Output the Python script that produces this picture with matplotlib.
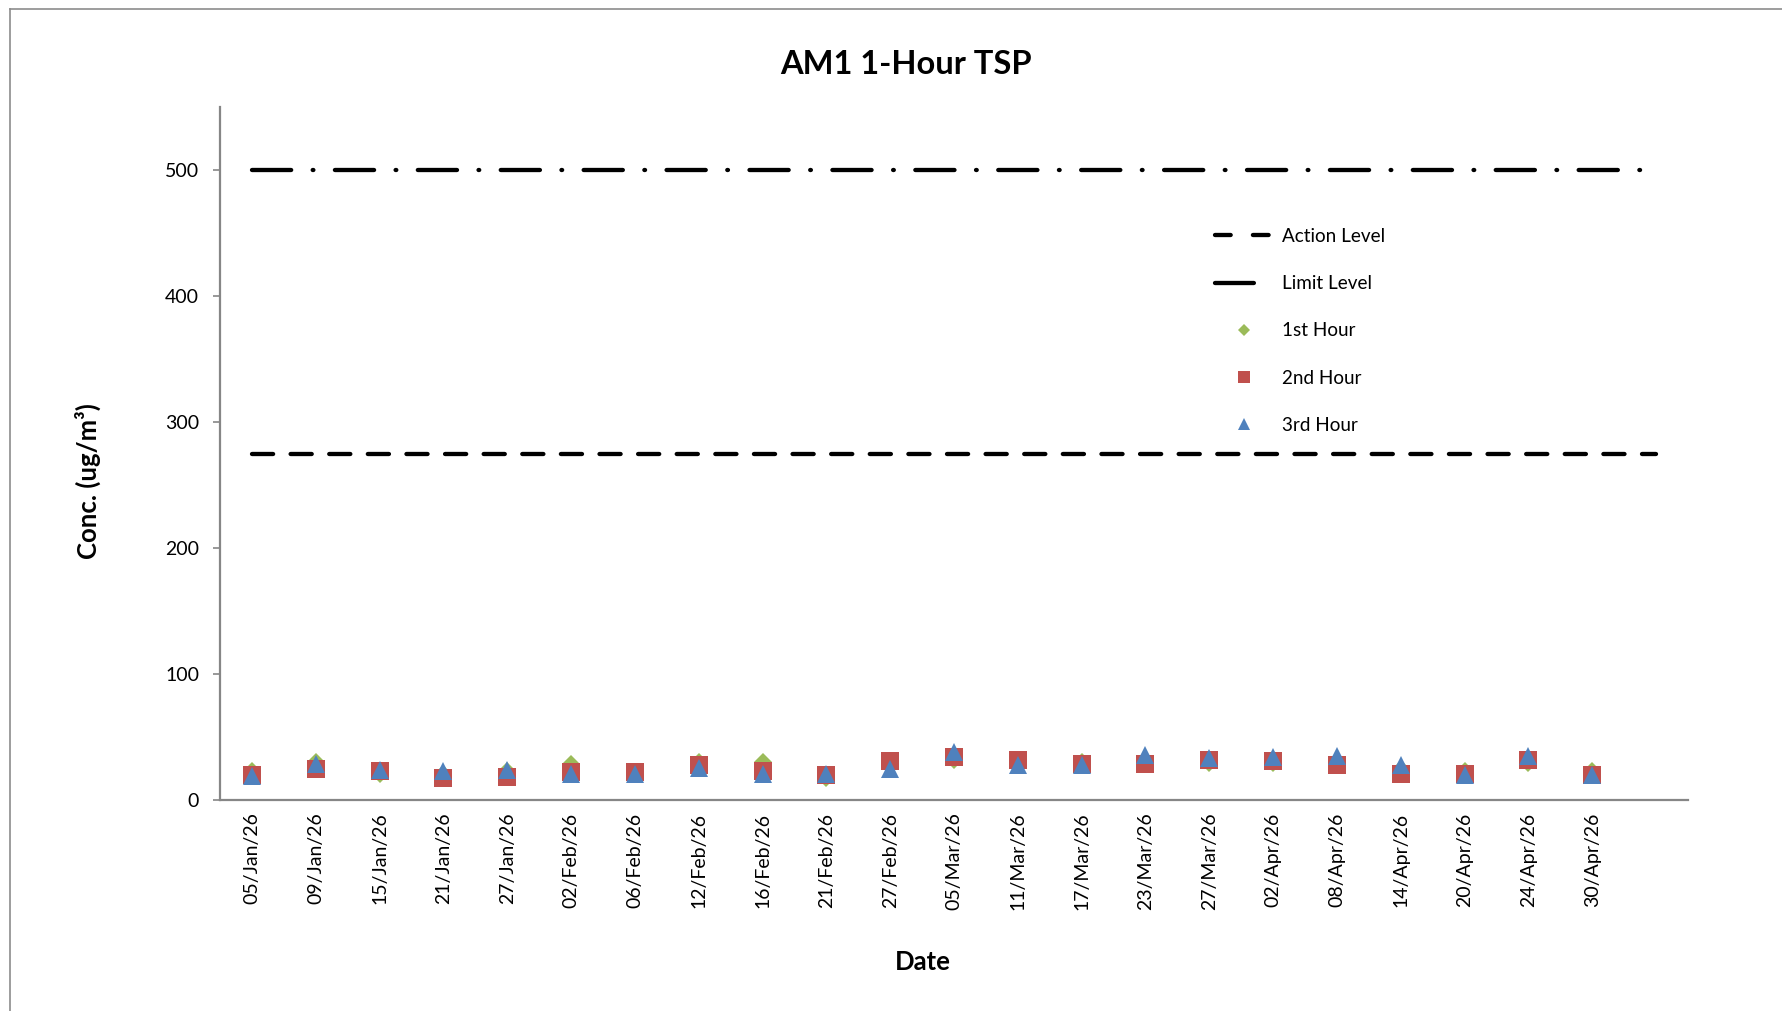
import matplotlib
matplotlib.use("Agg")
import matplotlib.pyplot as plt
from matplotlib.lines import Line2D

plt.rcParams['font.family'] = ['Lato', 'DejaVu Sans']
plt.rcParams['lines.scale_dashes'] = False

# ---------------- data ----------------
dates = ["05/Jan/26", "09/Jan/26", "15/Jan/26", "21/Jan/26", "27/Jan/26",
         "02/Feb/26", "06/Feb/26", "12/Feb/26", "16/Feb/26", "21/Feb/26",
         "27/Feb/26", "05/Mar/26", "11/Mar/26", "17/Mar/26", "23/Mar/26",
         "27/Mar/26", "02/Apr/26", "08/Apr/26", "14/Apr/26", "20/Apr/26",
         "24/Apr/26", "30/Apr/26"]
hour1 = [23, 30, 21, 21, 23, 28.6, 20.4, 30, 30, 17.7, 29, 31.7, 30, 30, 30,
         29, 29, 30, 25, 23.3, 29, 22.8]
hour2 = [19.8, 25, 22.9, 17.7, 17.9, 22.5, 22.5, 27.8, 22.9, 19.7, 31.1, 34.5,
         31.9, 28.2, 28.4, 32, 31.3, 27.6, 20.5, 20.5, 31.7, 19.7]
hour3 = [18.9, 28.4, 24, 23.3, 23.8, 20.9, 20.9, 25.1, 21, 20.9, 24.7, 38.1,
         27.8, 27.4, 35.7, 33.7, 33.9, 34.7, 27.4, 19.6, 35.3, 19.6]
n_slots = 23  # 22 dates + one empty category slot
action_level = 275
limit_level = 500
yticks = [0, 100, 200, 300, 400, 500]

W, H = 1783, 1011
fig = plt.figure(figsize=(W / 100, H / 100), dpi=100)

# chart-area border (Excel style)
fig.add_artist(Line2D([10 / W, 10 / W], [0, 1 - 9 / H], transform=fig.transFigure,
                      color='#8c8c8c', lw=1.2))
fig.add_artist(Line2D([10 / W, 1], [1 - 9 / H, 1 - 9 / H], transform=fig.transFigure,
                      color='#8c8c8c', lw=1.2))

ax = fig.add_axes([220 / W, 1 - 800 / H, (1688 - 220) / W, (800 - 107) / H])

xs = list(range(len(dates)))
line_x = list(range(n_slots))

ax.plot(line_x, [action_level] * n_slots, color='black', lw=3.1,
        dashes=(15.2, 12.6), dash_capstyle='round', zorder=2)
ax.plot(line_x, [limit_level] * n_slots, color='black', lw=3.1,
        dashes=(28.2, 15.5, 0.5, 15.5), dash_capstyle='round', zorder=2)

ax.plot(xs, hour1, linestyle='none', marker='D', ms=9.5, color='#9BBB59',
        markeredgewidth=0, zorder=3)
ax.plot(xs, hour2, linestyle='none', marker='s', ms=13, color='#C0504D',
        markeredgewidth=0, zorder=4)
ax.plot(xs, hour3, linestyle='none', marker='^', ms=12.5, color='#4F81BD',
        markeredgewidth=0, zorder=5)

ax.set_xlim(-0.5, n_slots - 0.5)
ax.set_ylim(0, 550)
ax.set_yticks(yticks)
ax.set_xticks(xs)
ax.set_xticklabels(dates, rotation=90)

for s in ['top', 'right']:
    ax.spines[s].set_visible(False)
for s in ['left', 'bottom']:
    ax.spines[s].set_color('#868686')
    ax.spines[s].set_linewidth(1.6)

ax.tick_params(axis='y', length=5, width=1.2, color='#868686', pad=10.0,
               labelsize=14)
ax.tick_params(axis='x', length=0, pad=9.0, labelsize=14)

ax.set_title("AM1 1-Hour TSP", fontsize=23.5, fontweight='bold',
             x=(906 - 220) / 1468, y=(800 - 65) / 693, pad=0,
             verticalalignment='center')
ax.set_ylabel("Conc. (ug/m\u00b3)", fontsize=18.5, fontweight='bold',
              ha='center', va='center')
ax.yaxis.set_label_coords((87.5 - 220) / 1468, (800 - 481) / 693)
ax.set_xlabel("Date", fontsize=18.5, fontweight='bold', ha='center', va='center')
ax.xaxis.set_label_coords((923 - 220) / 1468, (800 - 962) / 693)

handles = [
    Line2D([], [], color='black', lw=3.1, dashes=(11.3, 16), dash_capstyle='round'),
    Line2D([], [], color='black', lw=3.1, dashes=(28, 60), dash_capstyle='round'),
    Line2D([], [], linestyle='none', marker='D', ms=6.5, color='#9BBB59', markeredgewidth=0),
    Line2D([], [], linestyle='none', marker='s', ms=9, color='#C0504D', markeredgewidth=0),
    Line2D([], [], linestyle='none', marker='^', ms=9, color='#4F81BD', markeredgewidth=0),
]
labels = ["Action Level", "Limit Level", "1st Hour", "2nd Hour", "3rd Hour"]
fig.legend(handles, labels, loc='upper left',
           bbox_to_anchor=(1215 / W, 1 - 228 / H), frameon=False,
           fontsize=13.6, handlelength=3.1, handletextpad=0.45,
           labelspacing=1.6, borderpad=0, borderaxespad=0)

fig.savefig("out.png", dpi=100)
